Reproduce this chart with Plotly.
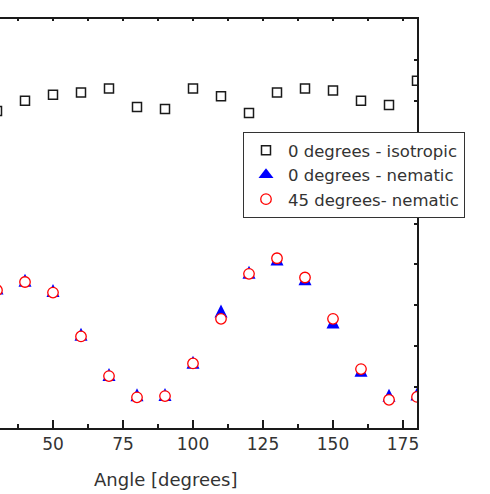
import plotly.graph_objects as go

# Data (y in arbitrary units, tick spacing = 1)
angles = [30, 40, 50, 60, 70, 80, 90, 100, 110, 120, 130, 140, 150, 160, 170, 180]
iso_0deg = [7.75, 8.00, 8.15, 8.20, 8.30, 7.85, 7.80, 8.30, 8.11, 7.70, 8.20, 8.30, 8.25, 8.00, 7.90, 8.49]
nem_0deg = [3.42, 3.61, 3.36, 2.29, 1.31, 0.81, 0.82, 1.61, 2.86, 3.81, 4.13, 3.65, 2.59, 1.41, 0.80, 0.83]
nem_45deg = [3.37, 3.57, 3.31, 2.24, 1.27, 0.75, 0.78, 1.58, 2.67, 3.77, 4.15, 3.68, 2.67, 1.44, 0.69, 0.76]

names = ["0 degrees - isotropic", "0 degrees - nematic", "45 degrees- nematic"]
x_title = "Angle [degrees]"
x_ticks = [25, 50, 75, 100, 125, 150, 175]

FONT = "DejaVu Sans"
TXT = "#333333"
AX = "#1a1a1a"
BLUE = "#0000ff"

W, H = 490, 494
ml, mr, mt, mb = 0, 73, 19, 66
pw = W - ml - mr
ph = H - mt - mb
y_min, y_max = 0, 10
x_max = 180
x_min = x_max - pw / 2.8

TRI = 13  # triangle marker size (px); 'arrow-up' is anchored at its apex
tri_shift = (TRI / 2) / (ph / (y_max - y_min))  # centre the triangle on its value
tri_y = [v + tri_shift for v in nem_0deg]

fig = go.Figure()
fig.add_trace(go.Scatter(
    x=angles, y=iso_0deg, mode="markers", name=names[0],
    marker=dict(symbol="square-open", size=9, color=AX, line=dict(width=1.5, color=AX)),
))
fig.add_trace(go.Scatter(
    x=angles, y=tri_y, mode="markers", name=names[1], legendgroup="n0", showlegend=False,
    marker=dict(symbol="arrow-up", size=TRI, color=BLUE, line=dict(width=0)),
))
fig.add_trace(go.Scatter(
    x=[None], y=[None], mode="markers", name=names[1], legendgroup="n0",
    marker=dict(symbol="triangle-up", size=TRI, color=BLUE, line=dict(width=0)),
))
fig.add_trace(go.Scatter(
    x=angles, y=nem_45deg, mode="markers", name=names[2],
    marker=dict(symbol="circle", size=10.5, color="white", line=dict(width=1.3, color="#ff0000")),
))
# empty trace so that the mirrored top axis is drawn
fig.add_trace(go.Scatter(x=[], y=[], xaxis="x2", showlegend=False, hoverinfo="skip"))

fig.update_layout(
    width=W, height=H,
    margin=dict(l=ml, r=mr, t=mt, b=mb, autoexpand=False),
    paper_bgcolor="white", plot_bgcolor="white",
    font=dict(family=FONT, size=17, color=TXT),
    showlegend=True,
    legend=dict(
        x=243 / pw, y=(H - mb - 132) / ph, xanchor="left", yanchor="top",
        bgcolor="white", bordercolor="#333333", borderwidth=1,
        font=dict(family=FONT, size=16.5, color=TXT),
        itemwidth=34, tracegroupgap=0,
    ),
    xaxis=dict(
        range=[x_min, x_max], tickvals=x_ticks, ticks="inside", ticklen=8, tickwidth=1.5,
        tickcolor=AX, showline=True, linecolor=AX, linewidth=2, showgrid=False, zeroline=False,
        tickfont=dict(family=FONT, size=17, color=TXT),
        minor=dict(dtick=12.5, tick0=0, ticks="inside", ticklen=4, tickwidth=1.5, tickcolor=AX, showgrid=False),
    ),
    xaxis2=dict(
        overlaying="x", side="top", matches="x", range=[x_min, x_max],
        tick0=0, dtick=12.5, ticks="inside", ticklen=2, tickwidth=1.5, tickcolor=AX,
        showticklabels=False, showline=True, linecolor=AX, linewidth=2, showgrid=False, zeroline=False,
    ),
    yaxis=dict(
        range=[y_min, y_max], side="right", tick0=0, dtick=1, ticks="inside", ticklen=3, tickwidth=1.5,
        tickcolor=AX, showticklabels=False, showline=True, linecolor=AX, linewidth=2,
        showgrid=False, zeroline=False,
    ),
    annotations=[dict(
        text=x_title, x=90, xref="x", y=(H - mb - 479) / ph, yref="paper",
        xanchor="center", yanchor="middle", showarrow=False,
        font=dict(family=FONT, size=18, color=TXT),
    )],
)

fig.write_html(
    "out.html",
    config={"displayModeBar": False},
    post_script="document.body.style.margin='0';document.body.style.padding='0';",
)
